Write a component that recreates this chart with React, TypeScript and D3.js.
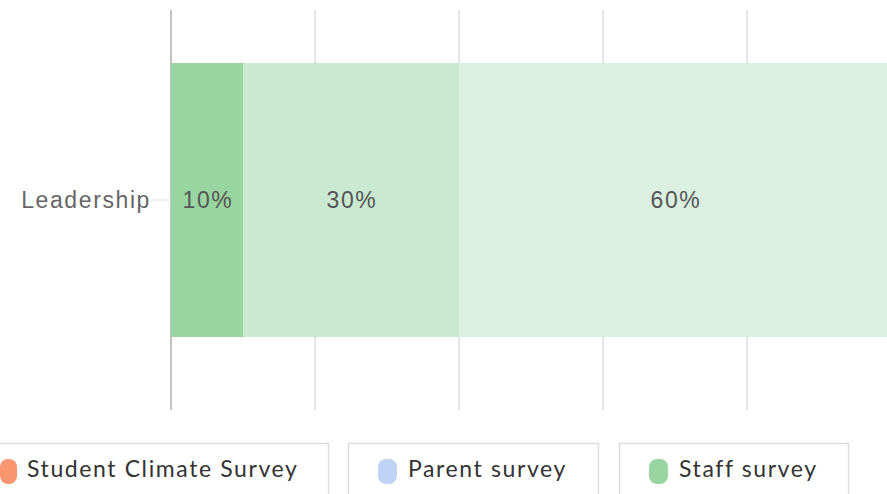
import { useEffect } from "react";
import * as d3 from "d3";

const categories = ["Leadership"];
const segmentValues = [10, 30, 60];
const segmentColors = ["#98d5a0", "#cae9d1", "#dcf0e1"];
const xTicks = [0, 20, 40, 60, 80, 100];
const legendNames = ["Student Climate Survey", "Parent survey", "Staff survey"];
const legendColors = ["#f9966f", "#bfd4f5", "#98d5a0"];

const W = 887;
const H = 494;

export default function App() {
  useEffect(() => {
    document.body.style.margin = "0";
  }, []);

  const x = d3.scaleLinear().domain([0, 100]).range([171, 891]);
  const y = d3.scaleBand().domain(categories).range([0, 400]).paddingInner(0.3).paddingOuter(0.161);

  const stacked = segmentValues.map((v, i) => {
    const start = d3.sum(segmentValues.slice(0, i));
    return { v, start, end: start + v, color: segmentColors[i] };
  });

  const legendX = [-40, 348, 619];
  const legendW = [368, 250, 229];

  return (
    <svg width={W} height={H} style={{ display: "block" }}>
      {xTicks.map((t, i) => (
        <line
          key={t}
          x1={x(t)}
          x2={x(t)}
          y1={10}
          y2={410}
          stroke={i === 0 ? "#999" : "#dcdcdc"}
          strokeWidth={i === 0 ? 1.2 : 1.5}
        />
      ))}
      {categories.map((c) => {
        const cy = (y(c) ?? 0) + y.bandwidth() / 2;
        return (
          <g key={c}>
            <line x1={150} x2={171} y1={cy} y2={cy} stroke="#ddd" strokeWidth={1} />
            <text
              x={151}
              y={cy}
              dy="0.35em"
              textAnchor="end"
              fontFamily="'Liberation Sans', Arial, sans-serif"
              fontSize={23}
              letterSpacing={1.6}
              fill="#666"
            >
              {c}
            </text>
            {stacked.map((s, i) => (
              <g key={i}>
                <rect
                  x={x(s.start)}
                  y={y(c)}
                  width={x(s.end) - x(s.start)}
                  height={y.bandwidth()}
                  fill={s.color}
                />
                <text
                  x={(x(s.start) + x(s.end)) / 2 + 1}
                  y={cy}
                  dy="0.35em"
                  textAnchor="middle"
                  fontFamily="'Liberation Sans', Arial, sans-serif"
                  fontSize={23}
                  letterSpacing={1.6}
                  fill="#555"
                >
                  {s.v}%
                </text>
              </g>
            ))}
          </g>
        );
      })}
      {legendNames.map((n, i) => (
        <g key={n} transform={`translate(${legendX[i]},443)`}>
          <rect x={0.5} y={0.5} width={legendW[i]} height={70} fill="#fff" stroke="#ddd" strokeWidth={1.5} />
          <rect
            x={i === 0 ? 40 : 30}
            y={16}
            width={i === 0 ? 17 : 19}
            height={25}
            rx={8}
            fill={legendColors[i]}
          />
          <text
            x={i === 0 ? 67 : 60}
            y={34}
            fontFamily="Lato, sans-serif"
            fontSize={23}
            letterSpacing={1.6}
            fill="#333"
          >
            {n}
          </text>
        </g>
      ))}
    </svg>
  );
}
